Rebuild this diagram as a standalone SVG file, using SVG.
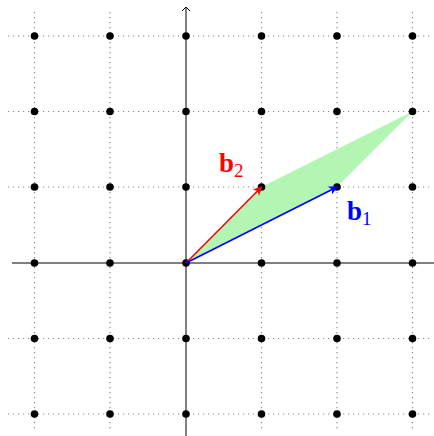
<svg xmlns="http://www.w3.org/2000/svg" width="434" height="436" viewBox="0 0 434 436">
<style>
.grid{stroke:#888;stroke-width:1.2;stroke-dasharray:1.2 3.8;fill:none}
.axis{stroke:#000;stroke-width:1;fill:none}
.dot{fill:#000}
.lbl{font-family:"Liberation Serif","DejaVu Serif",serif;font-weight:bold;font-size:27px}
.sub{font-family:"Liberation Serif","DejaVu Serif",serif;font-size:19px;font-weight:normal}
</style>
<defs>
<marker id="ah" markerWidth="10" markerHeight="10" refX="5" refY="5" orient="auto" markerUnits="userSpaceOnUse">
<path d="M1,1 L5,5 L1,9" stroke="#000" fill="none" stroke-width="1"/>
</marker>
<marker id="ar" markerWidth="12" markerHeight="12" refX="9" refY="6" orient="auto" markerUnits="userSpaceOnUse">
<path d="M1,1.5 L10,6 L1,10.5 L3.5,6 Z" fill="#f00"/>
</marker>
<marker id="ab" markerWidth="12" markerHeight="12" refX="9" refY="6" orient="auto" markerUnits="userSpaceOnUse">
<path d="M1,1.5 L10,6 L1,10.5 L3.5,6 Z" fill="#00f"/>
</marker>
</defs>
<g id="grid">
<path class="grid" d="M8,36H430M8,111.5H430M8,187H430M8,338.5H430M8,414H430M34.5,12V432M110,12V432M261.5,12V432M337,12V432M412.5,12V432"/>
</g>
<g id="parallelogram">
<polygon points="186,263 337,187 412.5,111.5 261.5,187" fill="#b3f5b3"/>
</g>
<g id="axes">
<line class="axis" x1="12" y1="263" x2="434" y2="263"/>
<line class="axis" x1="186" y1="436" x2="186" y2="7" marker-end="url(#ah)"/>
</g>
<g id="dots">
<circle class="dot" cx="34.5" cy="36" r="3.8"/><circle class="dot" cx="110" cy="36" r="3.8"/><circle class="dot" cx="186" cy="36" r="3.8"/><circle class="dot" cx="261.5" cy="36" r="3.8"/><circle class="dot" cx="337" cy="36" r="3.8"/><circle class="dot" cx="412.5" cy="36" r="3.8"/>
<circle class="dot" cx="34.5" cy="111.5" r="3.8"/><circle class="dot" cx="110" cy="111.5" r="3.8"/><circle class="dot" cx="186" cy="111.5" r="3.8"/><circle class="dot" cx="261.5" cy="111.5" r="3.8"/><circle class="dot" cx="337" cy="111.5" r="3.8"/><circle class="dot" cx="412.5" cy="111.5" r="3.8"/>
<circle class="dot" cx="34.5" cy="187" r="3.8"/><circle class="dot" cx="110" cy="187" r="3.8"/><circle class="dot" cx="186" cy="187" r="3.8"/><circle class="dot" cx="261.5" cy="187" r="3.8"/><circle class="dot" cx="337" cy="187" r="3.8"/><circle class="dot" cx="412.5" cy="187" r="3.8"/>
<circle class="dot" cx="34.5" cy="263" r="3.8"/><circle class="dot" cx="110" cy="263" r="3.8"/><circle class="dot" cx="186" cy="263" r="3.8"/><circle class="dot" cx="261.5" cy="263" r="3.8"/><circle class="dot" cx="337" cy="263" r="3.8"/><circle class="dot" cx="412.5" cy="263" r="3.8"/>
<circle class="dot" cx="34.5" cy="338.5" r="3.8"/><circle class="dot" cx="110" cy="338.5" r="3.8"/><circle class="dot" cx="186" cy="338.5" r="3.8"/><circle class="dot" cx="261.5" cy="338.5" r="3.8"/><circle class="dot" cx="337" cy="338.5" r="3.8"/><circle class="dot" cx="412.5" cy="338.5" r="3.8"/>
<circle class="dot" cx="34.5" cy="414" r="3.8"/><circle class="dot" cx="110" cy="414" r="3.8"/><circle class="dot" cx="186" cy="414" r="3.8"/><circle class="dot" cx="261.5" cy="414" r="3.8"/><circle class="dot" cx="337" cy="414" r="3.8"/><circle class="dot" cx="412.5" cy="414" r="3.8"/>
</g>
<g id="connectors">
<line x1="186" y1="263" x2="261.5" y2="187" stroke="#f00" stroke-width="1.6" marker-end="url(#ar)"/>
<line x1="186" y1="263" x2="337" y2="187" stroke="#00f" stroke-width="1.6" marker-end="url(#ab)"/>
</g>
<g id="b2">
<text class="lbl" x="219" y="172" fill="#f00">b<tspan class="sub" dy="5">2</tspan></text>
</g>
<g id="b1">
<text class="lbl" x="347" y="220" fill="#00f">b<tspan class="sub" dy="5">1</tspan></text>
</g>
</svg>
